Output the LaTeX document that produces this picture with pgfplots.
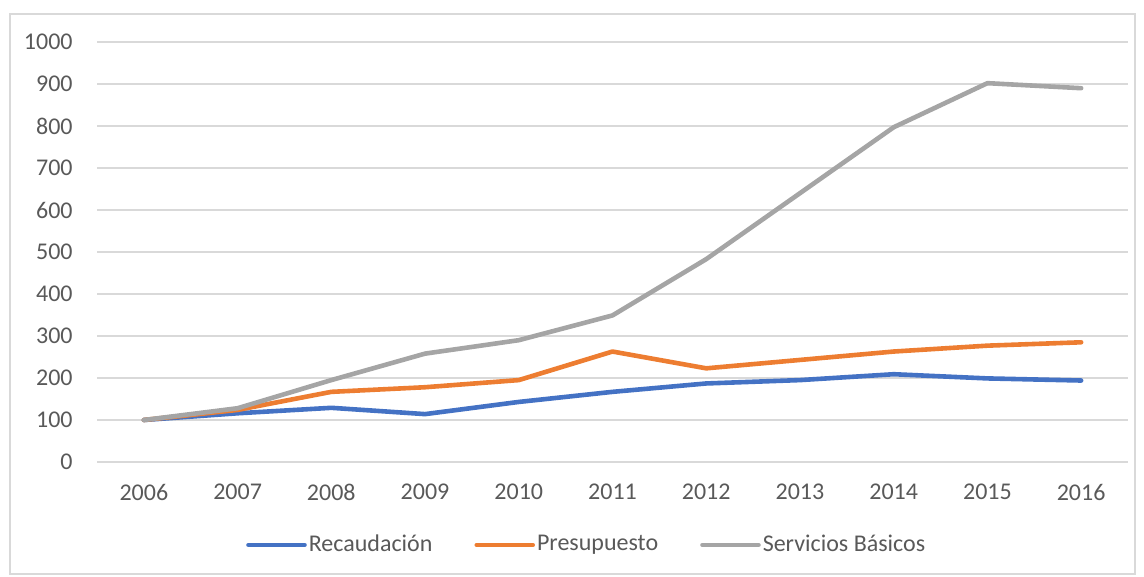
\documentclass[border=0pt]{standalone}
\usepackage{fontspec}
\setmainfont{Carlito}
\usepackage{pgfplots}
\pgfplotsset{compat=1.18}
\definecolor{cblue}{HTML}{4472C4}
\definecolor{corange}{HTML}{ED7D31}
\definecolor{cgray}{HTML}{A5A5A5}
\definecolor{ctext}{HTML}{595959}
\definecolor{cgrid}{HTML}{D9D9D9}
\begin{document}
\fontsize{12}{14}\selectfont
\begin{tikzpicture}
\useasboundingbox (0,0) rectangle (572pt,288.5pt);
\draw[cgrid, line width=0.6pt] (5pt,1.5pt) rectangle (567.5pt,281.5pt);
\begin{axis}[
  at={(48.5pt,57.5pt)}, anchor=south west,
  scale only axis, width=515.5pt, height=210pt,
  xmin=-0.5, xmax=10.5, ymin=0, ymax=1000,
  xtick={0,...,10},
  xticklabels={2006,2007,2008,2009,2010,2011,2012,2013,2014,2015,2016},
  ytick={0,100,...,1000},
  ymajorgrids, grid style={cgrid, line width=0.6pt},
  axis line style={draw=none}, tick style={draw=none},
  ticklabel style={font=\fontsize{12}{14}\selectfont, text=ctext},
  xticklabel style={yshift=-7pt},
  yticklabel style={xshift=-8pt},
  /pgf/number format/assume math mode=true,
  /pgf/number format/1000 sep={},
  legend columns=3,
  legend style={at={(rel axis cs:0.475,-0.1976)}, anchor=center, draw=none, fill=none,
    font=\fontsize{12}{14}\selectfont, text=ctext,
    /tikz/every odd column/.append style={column sep=0pt},
    /tikz/every even column/.append style={column sep=20pt},
    nodes={inner sep=1pt}},
  legend image code/.code={\draw[#1] (0pt,0pt) -- (28pt,0pt);},
  every axis plot/.append style={line width=2.3pt, line join=round, line cap=round},
]
\addplot[cblue] coordinates {(0,100) (1,116) (2,129) (3,114) (4,143) (5,167) (6,187) (7,195) (8,209) (9,199) (10,194)};
\addlegendentry{Recaudación}
\addplot[corange] coordinates {(0,100) (1,124) (2,167) (3,178) (4,195) (5,263) (6,223) (7,243) (8,263) (9,277) (10,285)};
\addlegendentry{Presupuesto}
\addplot[cgray] coordinates {(0,100) (1,128) (2,195) (3,258) (4,290) (5,349) (6,483) (7,640) (8,797) (9,902) (10,890)};
\addlegendentry{Servicios Básicos}
\end{axis}
\end{tikzpicture}
\end{document}
